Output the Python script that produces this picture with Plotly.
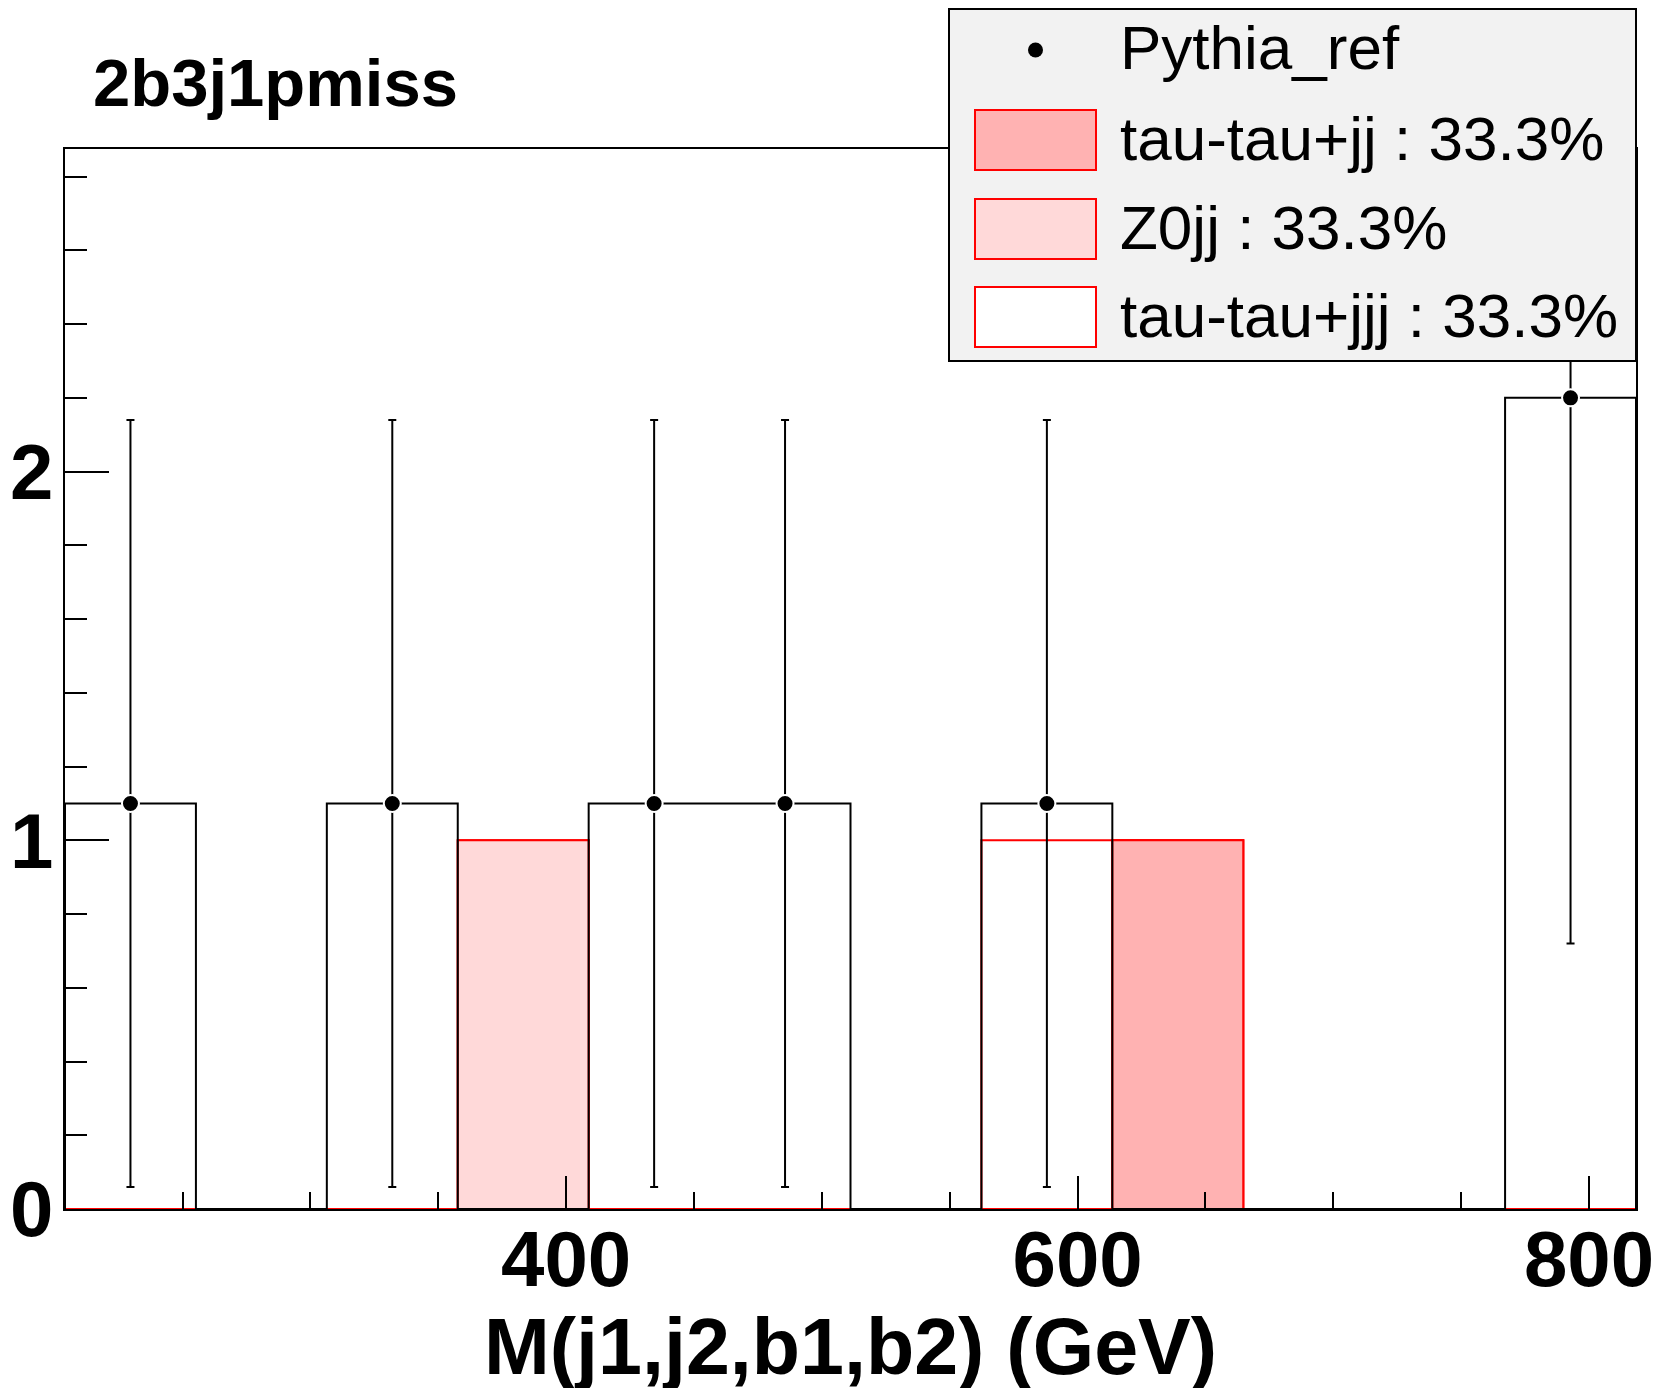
import plotly.graph_objects as go

# ---------------- data ----------------
x_min = 204.0
x_max = 818.4
bin_width = 51.2
bin_centers = [229.6, 280.8, 332.0, 383.2, 434.4, 485.6, 536.8, 588.0, 639.2, 690.4, 741.6, 792.8]

pythia_ref = [1.1, 0, 1.1, 0, 1.1, 1.1, 0, 1.1, 0, 0, 0, 2.2]
pythia_err = [1.04, 0, 1.04, 0, 1.04, 1.04, 0, 1.04, 0, 0, 0, 1.48]

tautau_jj = [0, 0, 0, 0, 0, 0, 0, 0, 1, 0, 0, 0]
z0jj = [0, 0, 0, 1, 0, 0, 0, 0, 0, 0, 0, 0]
tautau_jjj = [0, 0, 0, 0, 0, 0, 0, 1, 0, 0, 0, 0]

legend_labels = ["Pythia_ref", "tau-tau+jj : 33.3%", "Z0jj : 33.3%", "tau-tau+jjj : 33.3%"]
title_text = "2b3j1pmiss"
x_title = "M(j1,j2,b1,b2) (GeV)"

# ---------------- styling / geometry ----------------
OFF = 8                      # default page body margin
W, H = 1660, 1380            # figure size (fits in the window with the body margin)
PL, PR, PT, PB = 65, 1636, 149, 1209   # plot area in page pixels
ML, MT = PL - OFF, PT - OFF
PW, PH = PR - PL, PB - PT
MR = W - ML - PW
MB = H - MT - PH
FONT = "Liberation Sans, Arial, sans-serif"
COL_TTJJ = "rgb(255,178,178)"
COL_Z0 = "rgb(255,217,217)"
COL_TTJJJ = "rgb(255,255,255)"


def px(xp):
    return (xp - PL) / PW


def py(yp):
    return (PB - yp) / PH


edges = [c - bin_width / 2 for c in bin_centers] + [bin_centers[-1] + bin_width / 2]


def step(vals):
    xs = [edges[0]] + edges[:-1] + [edges[-1], edges[-1]]
    ys = [0] + list(vals) + [vals[-1], 0]
    return xs, ys


fig = go.Figure()

# stacked MC (cumulative)
c1 = list(tautau_jj)
c2 = [a + b for a, b in zip(c1, z0jj)]
c3 = [a + b for a, b in zip(c2, tautau_jjj)]
for vals, col in [(c3, COL_TTJJJ), (c2, COL_Z0), (c1, COL_TTJJ)]:
    xs, ys = step(vals)
    fig.add_trace(go.Scatter(x=xs, y=ys, mode="lines", line=dict(shape="hv", color="red", width=2),
                             fill="tozeroy", fillcolor=col, showlegend=False, hoverinfo="skip"))

# Pythia reference outline
xs, ys = step(pythia_ref)
fig.add_trace(go.Scatter(x=xs, y=ys, mode="lines", line=dict(shape="hv", color="black", width=2),
                         showlegend=False, hoverinfo="skip"))

# Pythia points with errors
pts = [(c, v, e) for c, v, e in zip(bin_centers, pythia_ref, pythia_err) if v > 0]
fig.add_trace(go.Scatter(
    x=[p[0] for p in pts], y=[p[1] for p in pts], mode="markers",
    marker=dict(color="black", size=17, line=dict(color="white", width=2)),
    error_y=dict(type="data", array=[p[2] for p in pts], visible=True, color="black",
                 thickness=2, width=4),
    showlegend=False))

# ---------------- legend (drawn) ----------------
shapes = []
annotations = []
shapes.append(dict(type="rect", xref="paper", yref="paper", x0=px(949), x1=px(1636), y0=py(361), y1=py(9),
                   fillcolor="rgb(242,242,242)", line=dict(color="black", width=2), layer="above"))
row_y = [50, 140, 229, 317]
swatch_cols = [COL_TTJJ, COL_Z0, COL_TTJJJ]
shapes.append(dict(type="circle", xref="paper", yref="paper", x0=px(1028), x1=px(1043),
                   y0=py(row_y[0] + 7.5), y1=py(row_y[0] - 7.5), fillcolor="black",
                   line=dict(color="black", width=0), layer="above"))
for i, col in enumerate(swatch_cols):
    yc = row_y[i + 1]
    shapes.append(dict(type="rect", xref="paper", yref="paper", x0=px(975), x1=px(1096),
                       y0=py(yc + 30), y1=py(yc - 30), fillcolor=col,
                       line=dict(color="red", width=2), layer="above"))
for lbl, yc in zip(legend_labels, row_y):
    annotations.append(dict(text=lbl, xref="paper", yref="paper", x=px(1118), y=py(yc - 2),
                            xanchor="left", yanchor="middle", showarrow=False,
                            font=dict(family=FONT, size=62, color="black")))

# title
annotations.append(dict(text=title_text, xref="paper", yref="paper", x=px(91), y=py(83),
                        xanchor="left", yanchor="middle", showarrow=False,
                        font=dict(family=FONT, size=67, color="black", weight="bold")))
# x-axis title
annotations.append(dict(text=x_title, xref="paper", yref="paper", x=0.5, y=py(1346),
                        xanchor="center", yanchor="middle", showarrow=False,
                        font=dict(family=FONT, size=79, color="black", weight="bold")))

axis_common = dict(showline=True, linecolor="black", linewidth=2, mirror=True, ticks="inside",
                   tickcolor="black", tickwidth=2, showgrid=False, zeroline=False, automargin=False,
                   tickfont=dict(family=FONT, size=78, color="black", weight="bold"))

fig.update_layout(
    width=W, height=H,
    margin=dict(l=ML, r=MR, t=MT, b=MB, pad=0, autoexpand=False),
    paper_bgcolor="white", plot_bgcolor="white",
    xaxis=dict(range=[x_min, x_max], tick0=0, dtick=200, ticklen=33, ticklabelstandoff=-19,
               minor=dict(ticks="inside", ticklen=17, tickwidth=2, tickcolor="black", dtick=50, tick0=0,
                          showgrid=False),
               **axis_common),
    yaxis=dict(range=[0, 2.875], tick0=0, dtick=1, ticklen=44, ticklabelstandoff=-6,
               minor=dict(ticks="inside", ticklen=22, tickwidth=2, tickcolor="black", dtick=0.2, tick0=0,
                          showgrid=False),
               **axis_common),
    shapes=shapes,
    annotations=annotations,
    showlegend=False,
)

fig.write_html("out.html")
